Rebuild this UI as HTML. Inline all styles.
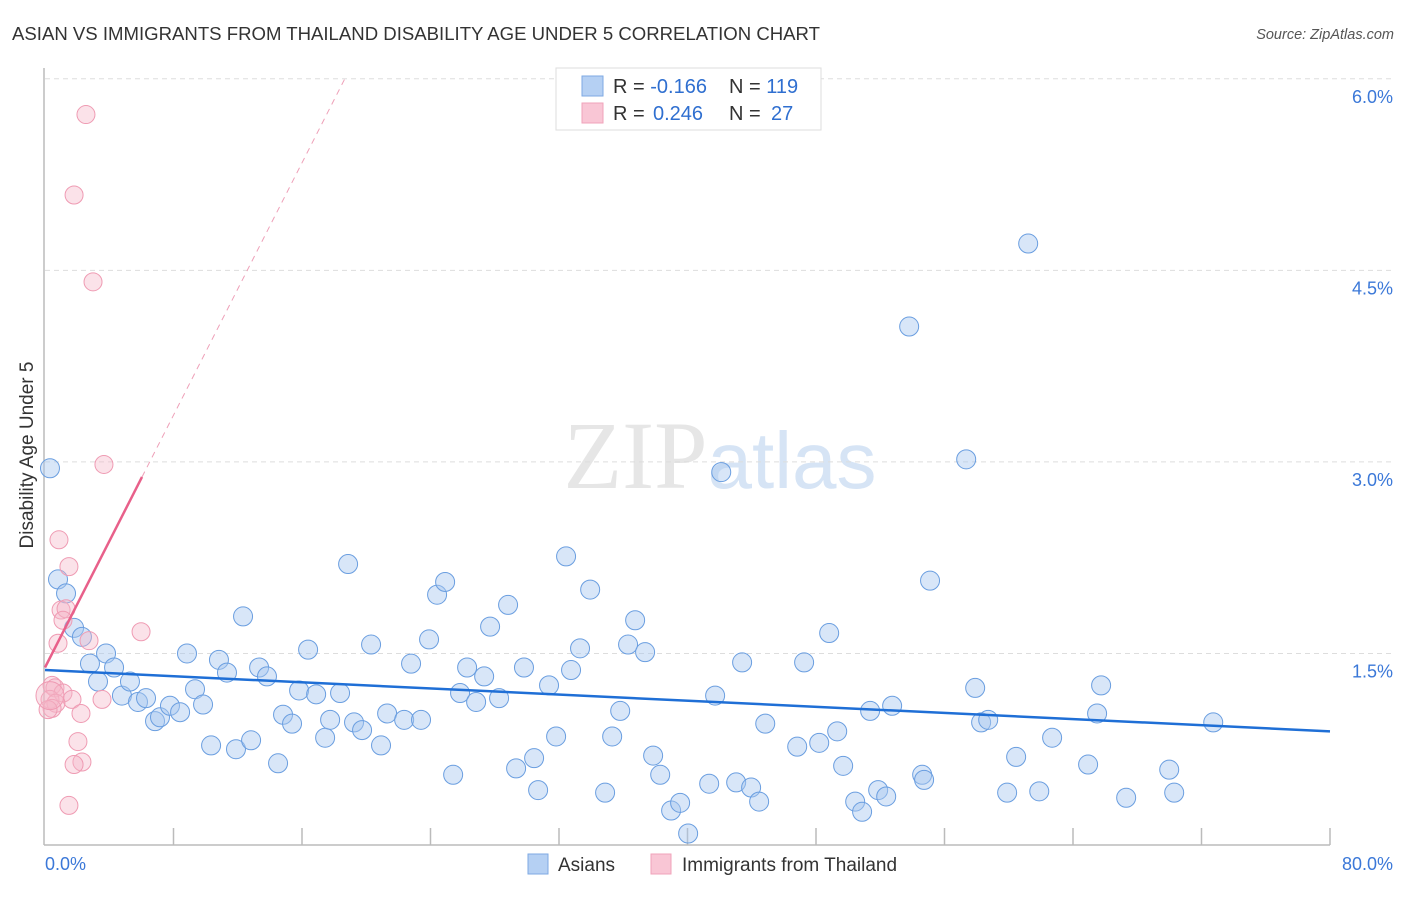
<!DOCTYPE html>
<html><head><meta charset="utf-8"><style>
body{margin:0;background:#fff;font-family:"Liberation Sans",sans-serif}
svg text{font-family:"Liberation Sans",sans-serif}
</style></head><body>
<svg id="chart" width="1406" height="892">
<text x="12" y="40" font-size="18.5" fill="#333" textLength="808" lengthAdjust="spacingAndGlyphs">ASIAN VS IMMIGRANTS FROM THAILAND DISABILITY AGE UNDER 5 CORRELATION CHART</text>
<text x="1394" y="39" font-size="14.5" fill="#555" text-anchor="end" font-style="italic">Source: ZipAtlas.com</text>
<text x="720" y="488" font-size="96" fill="#e6e6e6" text-anchor="middle" font-family="Liberation Serif"><tspan font-family="Liberation Serif">ZIP</tspan><tspan fill="#d6e4f5" font-family="Liberation Sans" font-size="80">atlas</tspan></text>
<g id="grid"></g>
<g id="axes"></g>
<g id="marks"></g>
<text transform="translate(33,455) rotate(-90)" font-size="19" fill="#333" text-anchor="middle">Disability Age Under 5</text>
<g>
<rect x="556" y="68" width="265" height="62" fill="#fff" stroke="#ddd"/>
<rect x="582" y="76" width="21" height="20" fill="#b5d0f3" stroke="#7ea9e3"/>
<rect x="582" y="103" width="21" height="20" fill="#f9c6d5" stroke="#f0a3ba"/>
<text x="613" y="93" font-size="20" fill="#333">R = <tspan fill="#2f6fd0">-0.166</tspan><tspan x="729">N = </tspan><tspan fill="#2f6fd0">119</tspan></text>
<text x="613" y="120" font-size="20" fill="#333">R = <tspan x="653" fill="#2f6fd0">0.246</tspan><tspan x="729">N = </tspan><tspan x="771" fill="#2f6fd0">27</tspan></text>
</g>
<g>
<rect x="528" y="854" width="20" height="20" fill="#b5d0f3" stroke="#7ea9e3"/>
<text x="558" y="871" font-size="19" fill="#333">Asians</text>
<rect x="651" y="854" width="20" height="20" fill="#f9c6d5" stroke="#f0a3ba"/>
<text x="682" y="871" font-size="19" fill="#333">Immigrants from Thailand</text>
</g>
</svg>
<script>
const yTicks=[1.5,3.0,4.5,6.0];
const yTickLabels=["1.5%","3.0%","4.5%","6.0%"];
const xTicks=[0,8,16,24,32,40,48,56,64,72,80];
const xEndLabels=["0.0%","80.0%"];
const asianX=[0.31,0.81,1.31,1.81,2.30,2.80,3.30,3.80,4.30,4.79,5.29,5.79,6.29,6.85,7.16,7.78,8.41,8.84,9.34,9.84,10.34,10.83,11.33,11.89,12.33,12.83,13.33,13.82,14.51,14.82,15.38,15.82,16.38,16.88,17.44,17.75,18.37,18.87,19.24,19.74,20.30,20.92,21.30,22.36,22.79,23.41,23.91,24.41,24.91,25.41,25.84,26.28,26.84,27.34,27.71,28.27,28.83,29.33,29.82,30.45,30.70,31.38,31.82,32.44,32.75,33.31,33.94,34.87,35.31,35.81,36.30,36.74,37.36,37.86,38.30,38.98,39.54,40.04,41.35,41.72,42.10,43.03,43.40,43.96,44.46,44.84,46.83,47.26,48.20,48.82,49.32,49.69,50.44,50.87,51.37,51.87,52.37,52.74,53.80,54.61,54.73,55.10,57.35,57.91,58.28,58.72,59.90,60.46,61.21,61.90,62.70,64.94,65.50,65.75,67.31,69.99,70.30,72.73];
const asianY=[2.95,2.08,1.97,1.70,1.63,1.42,1.28,1.50,1.39,1.17,1.28,1.12,1.15,0.97,1.00,1.09,1.04,1.50,1.22,1.10,0.78,1.45,1.35,0.75,1.79,0.82,1.39,1.32,0.64,1.02,0.95,1.21,1.53,1.18,0.84,0.98,1.19,2.20,0.96,0.90,1.57,0.78,1.03,0.98,1.42,0.98,1.61,1.96,2.06,0.55,1.19,1.39,1.12,1.32,1.71,1.15,1.88,0.60,1.39,0.68,0.43,1.25,0.85,2.26,1.37,1.54,2.00,0.41,0.85,1.05,1.57,1.76,1.51,0.70,0.55,0.27,0.33,0.09,0.48,1.17,2.92,0.49,1.43,0.45,0.34,0.95,0.77,1.43,0.80,1.66,0.89,0.62,0.34,0.26,1.05,0.43,0.38,1.09,4.06,0.55,0.51,2.07,3.02,1.23,0.96,0.98,0.41,0.69,4.71,0.42,0.84,0.63,1.03,1.25,0.37,0.59,0.41,0.96];
const thaiX=[2.55,1.81,2.99,3.67,0.87,1.49,1.00,1.31,1.12,2.74,0.81,5.98,0.44,0.62,1.12,1.68,0.31,0.68,0.44,0.19,2.24,3.55,2.05,2.30,1.81,1.49,0.31];
const thaiY=[5.72,5.09,4.41,2.98,2.39,2.18,1.84,1.85,1.76,1.60,1.58,1.67,1.25,1.23,1.19,1.14,1.14,1.11,1.07,1.06,1.03,1.14,0.81,0.65,0.63,0.31,1.17];
const asianTrend=[1.37,-0.006];  // intercept, slope
const thaiTrend=[1.39,0.247];
const X0=45,X1=1330,Y0=845,YPX=127.7;
function sx(v){return X0+(X1-X0)*v/80;}
function sy(v){return Y0-v*YPX;}
const NS="http://www.w3.org/2000/svg";
function mk(tag,attrs,parent){const e=document.createElementNS(NS,tag);for(const k in attrs)e.setAttribute(k,attrs[k]);parent.appendChild(e);return e;}
const grid=document.getElementById('grid'),axes=document.getElementById('axes'),marks=document.getElementById('marks');
yTicks.forEach((t,i)=>{
 const l=mk('line',{x1:45,x2:1395,y1:sy(t),y2:sy(t),stroke:'#ddd','stroke-dasharray':'5,4'},grid);
 
 
 const tx=mk('text',{x:1393,y:sy(t)+24,'font-size':18,fill:'#3b78d8','text-anchor':'end'},axes);
 tx.textContent=yTickLabels[i];
 
 
});
const ya=mk('line',{x1:44,x2:44,y1:68,y2:845,stroke:'#bbb','stroke-width':1.5},axes);


const xa=mk('line',{x1:44,x2:1330,y1:845,y2:845,stroke:'#bbb','stroke-width':1.5},axes);


xTicks.slice(1).forEach(t=>{
 const tk=mk('line',{x1:sx(t),x2:sx(t),y1:828,y2:845,stroke:'#bbb','stroke-width':1.5},axes);
 
 
});
[[0,'start',45],[80,'end',1393]].forEach((d,i)=>{
 const tx=mk('text',{x:d[2],y:870,'font-size':18,fill:'#3b78d8','text-anchor':d[1]},axes);
 tx.textContent=xEndLabels[i];
 
 
});
asianX.forEach((x,i)=>{
 const c=mk('circle',{cx:sx(x),cy:sy(asianY[i]),r:9.5,fill:'rgba(168,200,240,0.45)',stroke:'#6a9ee0','stroke-width':1},marks);
 
 
});
thaiX.forEach((x,i)=>{
 const c=mk('circle',{cx:sx(x),cy:sy(thaiY[i]),r:i==26?14:9,fill:'rgba(246,182,200,0.4)',stroke:'#ef9bb3','stroke-width':1},marks);
 
 
});
const bl=mk('line',{x1:sx(0),y1:sy(asianTrend[0]),x2:sx(80),y2:sy(asianTrend[0]+asianTrend[1]*80),stroke:'#1f6fd6','stroke-width':2.5},marks);


const xEnd=6.04,xTop=(6.0-thaiTrend[0])/thaiTrend[1];
const pl=mk('line',{x1:sx(0),y1:sy(thaiTrend[0]),x2:sx(xEnd),y2:sy(thaiTrend[0]+thaiTrend[1]*xEnd),stroke:'#e8608a','stroke-width':2.5},marks);


const pd=mk('line',{x1:sx(xEnd),y1:sy(thaiTrend[0]+thaiTrend[1]*xEnd),x2:sx(xTop),y2:sy(6.0),stroke:'#eea0b8','stroke-width':1,'stroke-dasharray':'6,5'},marks);


</script>
</body></html>
